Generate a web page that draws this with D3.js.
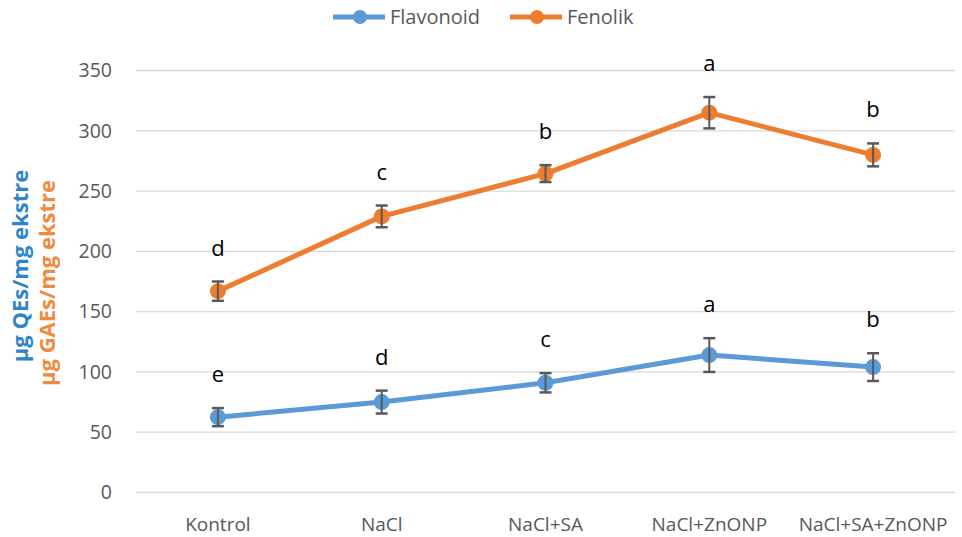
<!DOCTYPE html>
<html><head><meta charset="utf-8">
<script src="https://cdn.jsdelivr.net/npm/d3@7"></script>
<style>body{margin:0;background:#fff}svg{display:block}</style>
</head><body>
<script>
const categories = ["Kontrol","NaCl","NaCl+SA","NaCl+ZnONP","NaCl+SA+ZnONP"];
const flavonoid = [62.5, 75, 91, 114, 104];
const flavonoidErr = [7.5, 9.5, 8, 14, 11.5];
const flavonoidLetters = ["e","d","c","a","b"];
const fenolik = [167, 229, 264.5, 315, 280];
const fenolikErr = [8, 9, 7, 13, 9.5];
const fenolikLetters = ["d","c","b","a","b"];
const yTicks = [0,50,100,150,200,250,300,350];

const W=962,H=537;
const svg=d3.select("body").append("svg").attr("width",W).attr("height",H);
const font="'Open Sans', 'Liberation Sans', sans-serif";
const x=d3.scalePoint().domain(categories).range([136,955]).padding(0.5);
const y=d3.scaleLinear().domain([0,350]).range([492.5,70.5]);

svg.append("g").selectAll("line").data(yTicks).join("line")
  .attr("x1",136).attr("x2",955).attr("y1",d=>y(d)).attr("y2",d=>y(d))
  .attr("stroke","#d9d9d9").attr("stroke-width",1.3);
svg.append("g").selectAll("text").data(yTicks).join("text")
  .attr("x",112).attr("y",d=>y(d)).attr("dy","0.35em").attr("text-anchor","end")
  .attr("font-family",font).attr("font-size",19.5).attr("fill","#595959").text(d=>d);
svg.append("g").selectAll("text").data(categories).join("text")
  .attr("x",d=>x(d)).attr("y",531).attr("text-anchor","middle")
  .attr("font-family",font).attr("font-size",19).attr("fill","#595959").text(d=>d);

svg.append("text").attr("transform","translate(28,266) rotate(-90)").attr("text-anchor","middle")
  .attr("font-family",font).attr("font-size",22).attr("font-weight","bold").attr("fill","#2E86C9")
  .text("µg QEs/mg ekstre");
svg.append("text").attr("transform","translate(55,283) rotate(-90)").attr("text-anchor","middle")
  .attr("font-family",font).attr("font-size",22).attr("font-weight","bold").attr("fill","#F08A3C")
  .text("µg GAEs/mg ekstre");

const series=[
  {name:"Flavonoid",vals:flavonoid,err:flavonoidErr,letters:flavonoidLetters,color:"#5B9BD5"},
  {name:"Fenolik",vals:fenolik,err:fenolikErr,letters:fenolikLetters,color:"#ED7D31"}
];
const line=d3.line().x((d,i)=>x(categories[i])).y(d=>y(d));
series.forEach(s=>{
  const g=svg.append("g");
  g.append("path").datum(s.vals).attr("d",line).attr("fill","none")
    .attr("stroke",s.color).attr("stroke-width",5).attr("stroke-linejoin","round");
  g.selectAll("circle").data(s.vals).join("circle")
    .attr("cx",(d,i)=>x(categories[i])).attr("cy",d=>y(d)).attr("r",8).attr("fill",s.color);
  const eb=g.selectAll("g.eb").data(s.vals).join("g");
  eb.append("line").attr("x1",(d,i)=>x(categories[i])).attr("x2",(d,i)=>x(categories[i]))
    .attr("y1",(d,i)=>y(d+s.err[i])).attr("y2",(d,i)=>y(d-s.err[i])).attr("stroke","#595959").attr("stroke-width",2);
  [1,-1].forEach(sg=>{
    eb.append("line").attr("x1",(d,i)=>x(categories[i])-6).attr("x2",(d,i)=>x(categories[i])+6)
      .attr("y1",(d,i)=>y(d+sg*s.err[i])).attr("y2",(d,i)=>y(d+sg*s.err[i])).attr("stroke","#595959").attr("stroke-width",2.5);
  });
  g.selectAll("text").data(s.vals).join("text")
    .attr("x",(d,i)=>x(categories[i])).attr("y",(d,i)=>y(d+s.err[i])-26).attr("text-anchor","middle")
    .attr("font-family",font).attr("font-size",22).attr("fill","#000").text((d,i)=>s.letters[i]);
});

const leg=[{name:"Flavonoid",color:"#5B9BD5",x:333},{name:"Fenolik",color:"#ED7D31",x:510}];
leg.forEach(l=>{
  svg.append("line").attr("x1",l.x).attr("x2",l.x+52).attr("y1",17).attr("y2",17).attr("stroke",l.color).attr("stroke-width",5);
  svg.append("circle").attr("cx",l.x+27).attr("cy",17).attr("r",7).attr("fill",l.color);
  svg.append("text").attr("x",l.x+57).attr("y",17).attr("dy","0.35em").attr("font-family",font)
    .attr("font-size",20).attr("fill","#595959").text(l.name);
});
</script>
</body></html>
